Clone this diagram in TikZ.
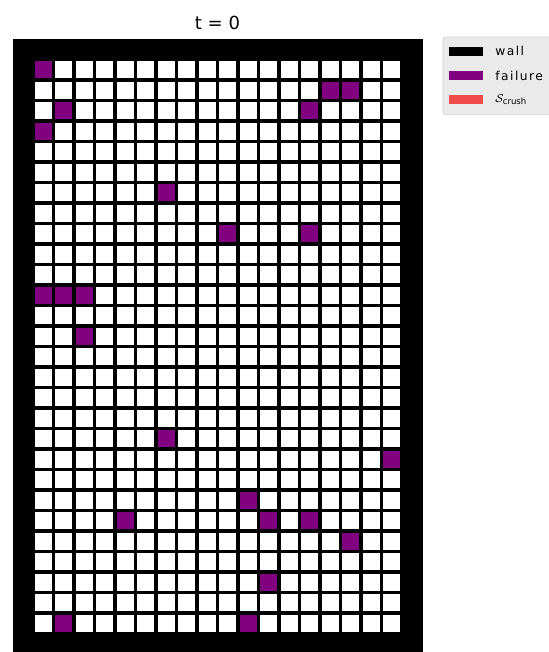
\documentclass[tikz,border=0pt]{standalone}
\usepackage{fontspec}
\setmainfont{DejaVu Sans}
\usetikzlibrary{positioning}
\definecolor{failcol}{RGB}{128,0,128}
\definecolor{crushcol}{RGB}{240,76,76}
\definecolor{legfill}{RGB}{234,234,234}
\definecolor{legedge}{RGB}{204,204,204}

\begin{document}
\begin{tikzpicture}[
  cell/.style={white},
  fail/.style={failcol},
  patch/.style={minimum width=8.3mm, minimum height=2.1mm, inner sep=0pt, outer sep=0pt},
  lbl/.style={font=\fontsize{8.5}{10}\selectfont\addfontfeature{LetterSpace=12}, anchor=west, inner sep=0pt},
  ttl/.style={font=\fontsize{12.5}{15}\selectfont}]
\useasboundingbox (-0.305,0.951) rectangle (13.061,-14.951);
% walls all round, grid of free cells inside
\fill[black] (0,0) rectangle (10,-15);
\foreach \c in {0,...,17}
  \foreach \r in {0,...,27}
    \fill[cell] ({(\c+1.5)*0.5-0.21},{-(\r+1.5)*0.5-0.21}) rectangle ++(0.42,0.42);
\foreach \c/\r in {0/0,14/1,15/1,1/2,13/2,0/3,6/6,9/8,13/8,0/11,1/11,2/11,2/13,
                   6/18,17/19,10/21,4/22,11/22,13/22,15/23,11/25,1/27,10/27}
  \fill[fail] ({(\c+1.5)*0.5-0.21},{-(\r+1.5)*0.5-0.21}) rectangle ++(0.42,0.42);
\node[ttl] (title) at (5,0.4) {t = 0};
% legend
\draw[legedge, fill=legfill, rounded corners=2pt] (10.5,0.05) rectangle (13.5,-1.85);
\node[patch, fill=black] (pwall) at (11.065,-0.3) {};
\node[patch, fill=failcol, below=3.8mm of pwall] (pfail) {};
\node[patch, fill=crushcol, below=3.8mm of pfail] (pcrush) {};
\node[lbl, right=2.9mm of pwall] (lwall) {wall};
\node[lbl, right=2.9mm of pfail] (lfail) {failure};
\node[lbl, right=2.9mm of pcrush] (lcrush) {$\mathcal{S}_{\mathrm{crush}}$};
\end{tikzpicture}
\end{document}
